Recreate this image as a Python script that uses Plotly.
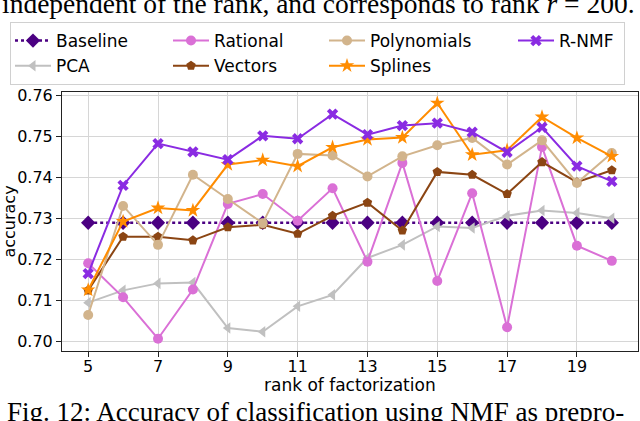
import plotly.graph_objects as go

ranks = list(range(5, 21))

baseline = [0.729] * 16
pca = [0.7095, 0.7125, 0.7142, 0.7144, 0.7033, 0.7024, 0.7086, 0.7114,
       0.7204, 0.7236, 0.7281, 0.7277, 0.7307, 0.7320, 0.7314, 0.7301]
rational = [0.7191, 0.7108, 0.7007, 0.7127, 0.7336, 0.7360, 0.7295, 0.7374,
            0.7195, 0.7436, 0.7148, 0.7362, 0.7035, 0.7475, 0.7234, 0.7197]
vectors = [0.7125, 0.7256, 0.7256, 0.7247, 0.7279, 0.7285, 0.7263, 0.7307,
           0.7339, 0.7271, 0.7414, 0.7407, 0.7360, 0.7438, 0.7389, 0.7418]
polynomials = [0.7065, 0.7331, 0.7236, 0.7407, 0.7348, 0.7289, 0.7458, 0.7454,
               0.7403, 0.7452, 0.7479, 0.7497, 0.7432, 0.7491, 0.7387, 0.7460]
splines = [0.7126, 0.7293, 0.7326, 0.7320, 0.7432, 0.7443, 0.7428, 0.7474,
           0.7493, 0.7498, 0.7582, 0.7456, 0.7467, 0.7548, 0.7497, 0.7452]
rnmf = [0.7166, 0.7381, 0.7483, 0.7463, 0.7444, 0.7502, 0.7495, 0.7555,
        0.7505, 0.7527, 0.7533, 0.7511, 0.7462, 0.7523, 0.7428, 0.7391]

x_ticks = [5, 7, 9, 11, 13, 15, 17, 19]
y_ticks = [0.70, 0.71, 0.72, 0.73, 0.74, 0.75, 0.76]

series = [
    # name, values, color, symbol, size, dash, legend column, legend width
    ("Baseline", baseline, "#4B0082", "diamond", 11, "dot", "c1", 107),
    ("PCA", pca, "#C0C0C0", "triangle-left", 10, "solid", "c1", 107),
    ("Rational", rational, "#DA70D6", "circle", 10, "solid", "c2", 105),
    ("Vectors", vectors, "#8B4513", "pentagon", 10, "solid", "c2", 105),
    ("Polynomials", polynomials, "#D2B48C", "circle", 10, "solid", "c3", 138),
    ("Splines", splines, "#FF8C00", "star", 11, "solid", "c3", 138),
    ("R-NMF", rnmf, "#8A2BE2", "x", 10, "solid", "c4", 60),
]

fig = go.Figure()
for name, vals, color, sym, size, dash, grp, lw in series:
    fig.add_trace(go.Scatter(
        x=ranks, y=vals, name=name, mode="lines+markers",
        line=dict(color=color, width=2 if dash == "solid" else 2.5, dash=dash),
        marker=dict(symbol=sym, size=size, color=color, line=dict(width=0)),
        legendgroup=grp, legendwidth=lw,
    ))

font = "DejaVu Sans, sans-serif"
serif = "Liberation Serif, serif"
fig.update_layout(
    width=640, height=421,
    margin=dict(l=62, r=2, t=92, b=70),
    paper_bgcolor="white", plot_bgcolor="white",
    font=dict(family=font, size=16, color="black"),
    showlegend=True,
    legend=dict(
        orientation="h", x=(10 - 62) / 576, xanchor="left",
        y=1 + (92 - 22) / 259, yanchor="top",
        bordercolor="#d0d0d0", borderwidth=1, bgcolor="white",
        font=dict(family=font, size=17),
        traceorder="grouped", tracegroupgap=0, itemwidth=36,
    ),
    xaxis=dict(
        range=[4.25, 20.75], tickvals=x_ticks, ticktext=[str(v) for v in x_ticks],
        showgrid=True, gridcolor="#d6d6d6", gridwidth=1,
        showline=True, linecolor="#222", linewidth=1, mirror=True,
        ticks="outside", ticklen=5, tickcolor="#222",
        ticklabelstandoff=-4,
        zeroline=False,
        tickfont=dict(family=font, size=16),
    ),
    yaxis=dict(
        range=[0.6977, 0.7609], tickvals=y_ticks, ticktext=[f"{v:.2f}" for v in y_ticks],
        showgrid=True, gridcolor="#d6d6d6", gridwidth=1,
        showline=True, linecolor="#222", linewidth=1, mirror=True,
        ticks="outside", ticklen=5, tickcolor="#222",
        zeroline=False,
        title=dict(text="accuracy", standoff=3, font=dict(family=font, size=16)),
        tickfont=dict(family=font, size=16),
    ),
    annotations=[
        dict(text="rank of factorization",
             xref="paper", yref="paper", x=0.5, y=(351 - 385) / 259,
             xanchor="center", yanchor="middle", showarrow=False,
             font=dict(family=font, size=17, color="black")),
        dict(text="independent of the rank, and corresponds to rank <i>r</i> = 200.",
             xref="paper", yref="paper", x=(0 - 62) / 576, y=(351 - 21) / 259,
             xanchor="left", yanchor="bottom", showarrow=False,
             font=dict(family=serif, size=27.5, color="black")),
        dict(text="Fig. 12: Accuracy of classification using NMF as prepro-",
             xref="paper", yref="paper", x=(5 - 62) / 576, y=(351 - 395) / 259,
             xanchor="left", yanchor="top", showarrow=False,
             font=dict(family=serif, size=27, color="black")),
    ],
)

fig.write_html("out.html")
